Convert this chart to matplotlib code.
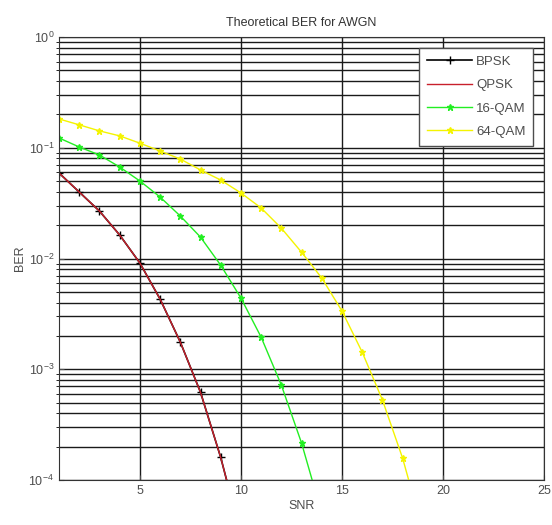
import numpy as np
import matplotlib
matplotlib.use('Agg')
import matplotlib.pyplot as plt

plt.rcParams['font.family'] = ['Liberation Sans', 'DejaVu Sans']

# SNR points and BER values
snr_bpsk = [1, 2, 3, 4, 5, 6, 7, 8, 9, 10]
ber_bpsk = [0.0591, 0.0398, 0.0268, 0.0163, 0.0091, 0.0043, 0.00176, 6.2e-4, 1.6e-4, 3.2e-5]
snr_qpsk = snr_bpsk
ber_qpsk = ber_bpsk

snr_16qam = [1, 2, 3, 4, 5, 6, 7, 8, 9, 10, 11, 12, 13, 14]
ber_16qam = [0.1225, 0.1016, 0.0860, 0.067, 0.0501, 0.0359, 0.0242, 0.0156,
             0.0087, 0.0044, 0.00195, 7.2e-4, 2.16e-4, 5e-5]

snr_64qam = [1, 2, 3, 4, 5, 6, 7, 8, 9, 10, 11, 12, 13, 14, 15, 16, 17, 18, 19]
ber_64qam = [0.182, 0.161, 0.142, 0.128, 0.110, 0.0935, 0.0791, 0.0630, 0.0511,
             0.0391, 0.0286, 0.0188, 0.0114, 0.00667, 0.00336, 0.00143, 5.3e-4,
             1.58e-4, 3.5e-5]

fig = plt.figure(figsize=(5.52, 5.25), dpi=100)
ax = fig.add_axes([0.107, 0.0857, 0.8785, 0.8438])

ax.semilogy(snr_bpsk, ber_bpsk, 'k-+', lw=1.2, ms=6, label='BPSK')
ax.semilogy(snr_qpsk, ber_qpsk, '-', color='#c8202c', lw=1.0, label='QPSK')
ax.semilogy(snr_16qam, ber_16qam, '-*', color='#22ee22', lw=1.0, ms=5, label='16-QAM')
ax.semilogy(snr_64qam, ber_64qam, '-*', color='#f4f400', lw=1.0, ms=5, label='64-QAM')

ax.set_xlim(1, 25)
ax.set_ylim(1e-4, 1)
ax.set_xticks([5, 10, 15, 20, 25])
ax.grid(True, which='major', color='0.1', lw=1.0)
ax.grid(True, which='minor', axis='y', color='0.1', lw=1.0)
ax.tick_params(labelsize=9, colors='0.3', direction='in')
for s in ax.spines.values():
    s.set_color('0.2')

ax.set_xlabel('SNR', fontsize=9, color='0.3', labelpad=2)
ax.set_ylabel('BER', fontsize=9, color='0.3', labelpad=2)
ax.set_title('Theoretical BER for AWGN', fontsize=9, color='0.2', pad=8)

leg = ax.legend(loc='upper right', fontsize=9.5, fancybox=False, framealpha=1,
                edgecolor='0.3', handlelength=3.4, borderaxespad=0.8,
                labelspacing=0.85, handletextpad=0.3, borderpad=0.6)
for t in leg.get_texts():
    t.set_color('0.3')

fig.savefig('out.png', dpi=100)
